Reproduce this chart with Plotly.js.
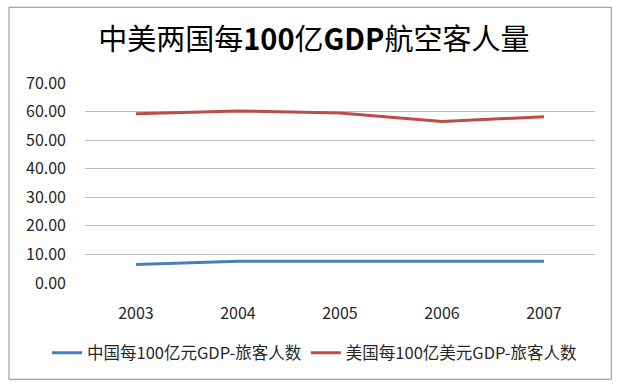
<!DOCTYPE html>
<html>
<head>
<meta charset="utf-8">
<script src="https://cdn.plot.ly/plotly-3.0.1.min.js"></script>
<style>
  html, body { margin: 0; padding: 0; background: #ffffff; }
  #chart { width: 619px; height: 387px; }
</style>
</head>
<body>
<div id="chart"></div>
<script>
const chartTitle = "中美两国每<b>100</b>亿<b>GDP</b>航空客人量";
const years = ["2003", "2004", "2005", "2006", "2007"];
const seriesNames = ["中国每100亿元GDP-旅客人数", "美国每100亿美元GDP-旅客人数"];
const chinaValues = [6.5, 7.6, 7.6, 7.6, 7.6];
const usaValues = [59.2, 60.2, 59.5, 56.5, 58.2];
const yTicks = [0, 10, 20, 30, 40, 50, 60, 70];

const FONT = "'Noto Sans CJK SC', 'Noto Sans', sans-serif";

const traces = [
  {
    x: years, y: chinaValues, name: seriesNames[0], type: "scatter", mode: "lines",
    line: { color: "#4a7ebb", width: 3 }, legend: "legend"
  },
  {
    x: years, y: usaValues, name: seriesNames[1], type: "scatter", mode: "lines",
    line: { color: "#be4b48", width: 3 }, legend: "legend2"
  }
];

const legendCommon = {
  orientation: "h",
  xanchor: "left",
  y: -0.35, yanchor: "middle",
  font: { family: FONT, size: 16.5, color: "#262626" },
  bgcolor: "rgba(0,0,0,0)",
  borderwidth: 0
};

const layout = {
  width: 619, height: 387,
  margin: { l: 85, r: 24, t: 83, b: 104 },
  paper_bgcolor: "#ffffff", plot_bgcolor: "#ffffff",
  font: { family: FONT, color: "#262626", size: 16 },
  title: {
    text: chartTitle,
    font: { family: FONT, size: 29, color: "#000000" },
    x: 0.507, xanchor: "center", xref: "container",
    y: 0.896, yanchor: "middle", yref: "container"
  },
  xaxis: {
    type: "category",
    range: [-0.5, 4.5],
    showgrid: false, zeroline: false, showline: false,
    ticks: "", ticklabelstandoff: 19,
    tickfont: { family: FONT, size: 16, color: "#262626" },
    fixedrange: true
  },
  yaxis: {
    range: [0, 70],
    tickvals: yTicks,
    ticktext: yTicks.map(v => v.toFixed(2)),
    showgrid: true, gridcolor: "#bfbfbf", gridwidth: 1,
    zeroline: false, showline: false,
    ticks: "", ticklabelstandoff: 18,
    tickfont: { family: FONT, size: 16, color: "#262626" },
    fixedrange: true
  },
  showlegend: true,
  legend: Object.assign({}, legendCommon, { x: -0.0745 }),
  legend2: Object.assign({}, legendCommon, { x: 0.433 }),
  shapes: [
    {
      type: "rect", xref: "paper", yref: "paper",
      x0: -0.149, x1: 1.032, y0: -0.4815, y1: 1.3785,
      line: { color: "#8c8c8c", width: 1 }, fillcolor: "rgba(0,0,0,0)",
      layer: "below"
    }
  ]
};

Plotly.newPlot("chart", traces, layout, { displayModeBar: false, staticPlot: true });
</script>
</body>
</html>
